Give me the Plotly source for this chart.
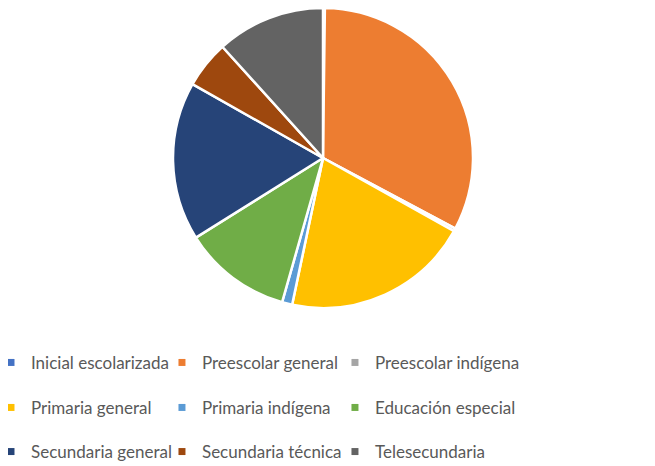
import plotly.graph_objects as go

# Enrollment share by educational service (%)
labels = ['Inicial escolarizada', 'Preescolar general', 'Preescolar indígena',
          'Primaria general', 'Primaria indígena', 'Educación especial',
          'Secundaria general', 'Secundaria técnica', 'Telesecundaria']
values = [0.2, 32.6, 0.3, 20.2, 1.1, 11.7, 17.1, 5.1, 11.7]
colors = ['#4472C4', '#ED7D31', '#A5A5A5', '#FFC000', '#5B9BD5',
          '#70AD47', '#264478', '#9E480E', '#636363']

# page body has an 8px margin, so the figure is drawn 8px smaller
W, H = 647, 458

fig = go.Figure()

fig.add_trace(go.Pie(
    labels=labels, values=values,
    sort=False, direction='clockwise', rotation=0,
    marker=dict(colors=colors, line=dict(color='white', width=2.5)),
    textinfo='none', hoverinfo='label+percent',
    showlegend=False,
))

# one small legend per entry so the 3x3 grid lines up like the original
col_x = [-0.027, 0.2444, 0.519]
row_y = [-0.183, -0.333, -0.48]
legends = {}
for i, (lab, col) in enumerate(zip(labels, colors)):
    key = 'legend' if i == 0 else f'legend{i + 1}'
    fig.add_trace(go.Scatter(
        x=[None], y=[None], mode='markers', name=lab,
        marker=dict(symbol='square', size=7, color=col),
        legend=key,
    ))
    legends[key] = dict(
        x=col_x[i % 3], y=row_y[i // 3], xanchor='left', yanchor='middle',
        font=dict(family='Lato', size=17, color='#595959'),
        bgcolor='rgba(0,0,0,0)', itemwidth=30,
    )

fig.update_layout(
    width=W, height=H,
    margin=dict(l=0, r=17, t=0, b=158, autoexpand=False),
    paper_bgcolor='white', plot_bgcolor='white',
    xaxis=dict(visible=False), yaxis=dict(visible=False),
    **legends,
)

fig.write_html("out.html")
